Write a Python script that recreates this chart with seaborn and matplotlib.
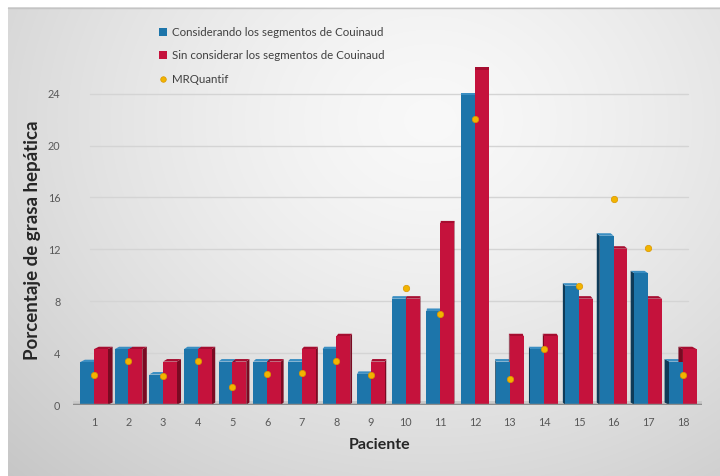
import numpy as np
import pandas as pd
import matplotlib
matplotlib.use("Agg")
import matplotlib.pyplot as plt
import seaborn as sns
from matplotlib.patches import Polygon, Patch
from matplotlib.lines import Line2D

# Datos por paciente (% de grasa hepática)
pacientes = [str(i) for i in range(1, 19)]
con_segmentos = [3.3, 4.3, 2.35, 4.3, 3.35, 3.35, 3.35, 4.3, 2.4, 8.2, 7.25, 23.9,
                 3.35, 4.3, 9.2, 13.05, 10.15, 3.35]
sin_segmentos = [4.3, 4.3, 3.35, 4.3, 3.35, 3.35, 4.3, 5.3, 3.35, 8.2, 14.0, 25.85,
                 5.3, 5.3, 8.2, 12.05, 8.2, 4.3]
mrquantif = [2.3, 3.4, 2.25, 3.4, 1.35, 2.4, 2.45, 3.4, 2.35, 9.05, 7.05, 22.05,
             2.0, 4.3, 9.2, 15.9, 12.1, 2.3]
serie_con = "Considerando los segmentos de Couinaud"
serie_sin = "Sin considerar los segmentos de Couinaud"
serie_mrq = "MRQuantif"
y_ticks = [0, 4, 8, 12, 16, 20, 24]

df = pd.DataFrame({
    "Paciente": pacientes * 2,
    "valor": con_segmentos + sin_segmentos,
    "serie": [serie_con] * len(pacientes) + [serie_sin] * len(pacientes),
})

AZUL, AZUL_LADO, AZUL_TAPA = "#1d75aa", "#0e3b58", "#3a8ec2"
ROJO, ROJO_LADO, ROJO_TAPA = "#c5123c", "#7a0a22", "#a60d30"
AMARILLO = "#f2b400"

sns.set_theme(style="white")
plt.rcParams["font.family"] = ["Lato", "DejaVu Sans"]

W, H = 720, 476
fig = plt.figure(figsize=(W / 100, H / 100), dpi=100)

# Fondo con degradado radial gris
bg = fig.add_axes([0, 0, 1, 1], zorder=0)
bg.set_xlim(0, W)
bg.set_ylim(H, 0)
bg.axis("off")
yy, xx = np.mgrid[0:H, 0:W]
r = np.hypot((xx - 430) / 520.0, (yy - 120) / 430.0)
v = 0.975 - 0.16 * np.clip(r, 0, 1.2) ** 1.4
v[:7, :] = 1.0
v[:, :8] = 1.0
bg.imshow(np.dstack([v, v, v]), extent=(0, W, H, 0), origin="upper", aspect="auto")
bg.plot([8, W], [7.5, 7.5], color="#c4c4c4", lw=1)

# Área del gráfico
x0, x1, y_base, y_top = 73, 702, 405, 60
ax = fig.add_axes([x0 / W, 1 - y_base / H, (x1 - x0) / W, (y_base - y_top) / H], zorder=1)
ax.set_facecolor("none")

sns.barplot(data=df, x="Paciente", y="valor", hue="serie",
            palette=[AZUL, ROJO], width=0.8, saturation=1, linewidth=0,
            legend=False, ax=ax, zorder=2)

xlim = (-0.6, 17.55)
ylim = (0, 26.6)
px_x = (xlim[1] - xlim[0]) / (x1 - x0)
px_y = (ylim[1] - ylim[0]) / (y_base - y_top)

# Caras laterales y tapas para dar volumen a las barras
azules = ax.containers[0].patches
rojos = ax.containers[1].patches
centro = 11
sube = 2.5 * px_y
for i, (pa, pr) in enumerate(zip(azules, rojos)):
    factor = 0.45 if i < centro else 0.75
    d = factor * abs(i - centro) * px_x
    for p, lado, tapa in ((pa, AZUL_LADO, AZUL_TAPA), (pr, ROJO_LADO, ROJO_TAPA)):
        x, w, h = p.get_x(), p.get_width(), p.get_height()
        if i < centro:
            xe = x + w
            caras = [([(xe, 0), (xe + d, sube), (xe + d, h + sube), (xe, h)], lado),
                     ([(x, h), (xe, h), (xe + d, h + sube), (x + d, h + sube)], tapa)]
        elif i > centro:
            caras = [([(x, 0), (x - d, sube), (x - d, h + sube), (x, h)], lado),
                     ([(x, h), (x + w, h), (x + w - d, h + sube), (x - d, h + sube)], tapa)]
        else:
            caras = [([(x, h), (x + w, h), (x + w, h + sube), (x, h + sube)], tapa)]
        for pts, c in caras:
            ax.add_patch(Polygon(pts, closed=True, color=c, lw=0, zorder=1.8))

# Valores de MRQuantif
sns.stripplot(x=pacientes, y=mrquantif, jitter=False, color=AMARILLO, size=4.6,
              linewidth=0.5, edgecolor="#d99500", ax=ax, zorder=5)

# Rejilla, suelo y ejes
for t in y_ticks[1:]:
    ax.axhline(t, xmin=0.027, xmax=0.978, color="#d4d4d4", lw=1, zorder=0.5)
ax.fill_between(list(xlim), 0, 0.3, color="#c9c9c9", lw=0, zorder=0.6)
ax.axhline(0, color="#8c8c8c", lw=2.5, zorder=3)

ax.set_xlim(*xlim)
ax.set_ylim(*ylim)
ax.set_yticks(y_ticks)
ax.set_yticklabels([str(t) for t in y_ticks])
ax.set_xticks(range(len(pacientes)))
ax.set_xticklabels(pacientes)
ax.tick_params(axis="both", length=0, labelsize=7.8, labelcolor="#595959")
ax.tick_params(axis="y", pad=9)
ax.tick_params(axis="x", pad=9)
ax.set_xlabel("")
ax.set_ylabel("")
for s in ax.spines.values():
    s.set_visible(False)

fig.text(33 / W, 1 - 240 / H, "Porcentaje de grasa hepática", rotation=90,
         ha="center", va="center", fontsize=13.5, fontweight="bold", color="#262626")
fig.text(380 / W, 1 - 445 / H, "Paciente", ha="center", va="center",
         fontsize=11.5, fontweight="bold", color="#262626")

handles = [
    Patch(facecolor=AZUL, edgecolor="none"),
    Patch(facecolor=ROJO, edgecolor="none"),
    Line2D([], [], marker="o", linestyle="none", markersize=4,
           markerfacecolor=AMARILLO, markeredgecolor="#d99500", markeredgewidth=0.5),
]
fig.legend(handles, [serie_con, serie_sin, serie_mrq], loc="upper left",
           bbox_to_anchor=(149 / W, 1 - 17 / H), frameon=False, fontsize=8.3,
           handlelength=0.7, handleheight=0.7, handletextpad=0.4, labelspacing=1.05,
           labelcolor="#404040")

fig.savefig("out.png", dpi=100)
